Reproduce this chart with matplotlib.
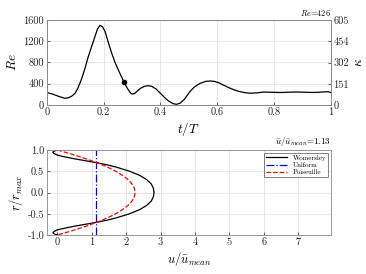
import numpy as np
import matplotlib
matplotlib.use('Agg')
import matplotlib.pyplot as plt

plt.rcParams['font.family'] = ['cmr10', 'DejaVu Serif']
plt.rcParams['mathtext.fontset'] = 'cm'
plt.rcParams['axes.unicode_minus'] = False

# Re over one cycle
t = [0.0, 0.02, 0.04, 0.063, 0.075, 0.088, 0.099, 0.11, 0.122, 0.134, 0.145,
     0.158, 0.169, 0.178, 0.187, 0.196, 0.205, 0.215, 0.228, 0.24, 0.255,
     0.272, 0.285, 0.295, 0.301, 0.31, 0.32, 0.33, 0.343, 0.357, 0.37, 0.385,
     0.399, 0.415, 0.43, 0.445, 0.457, 0.47, 0.485, 0.504, 0.52, 0.54, 0.56,
     0.575, 0.59, 0.605, 0.622, 0.64, 0.66, 0.678, 0.695, 0.716, 0.74, 0.763,
     0.79, 0.822, 0.85, 0.881, 0.91, 0.939, 0.96, 0.98, 0.992, 1.0]
Re = [235, 205, 165, 125, 135, 170, 220, 330, 490, 690, 900,
      1110, 1286, 1430, 1500, 1470, 1380, 1200, 980, 800, 620,
      426, 300, 225, 205, 220, 270, 315, 350, 364, 350, 300,
      225, 140, 70, 25, 13, 35, 110, 251, 340, 408, 445,
      452, 445, 420, 376, 330, 285, 255, 235, 222, 228, 243,
      240, 235, 240, 245, 240, 236, 240, 248, 250, 235]
t_now, Re_now = 0.272, 426

# velocity profiles
r_w = [1.0, 0.98, 0.97, 0.95, 0.92, 0.88, 0.85, 0.8, 0.75, 0.7, 0.65, 0.6,
       0.5, 0.4, 0.3, 0.2, 0.1, 0.0, -0.1, -0.2, -0.3, -0.4, -0.5, -0.6,
       -0.65, -0.7, -0.75, -0.8, -0.85, -0.88, -0.92, -0.95, -0.97, -0.98,
       -1.0]
u_w = [0.0, -0.07, -0.1, -0.13, -0.1, 0.0, 0.15, 0.45, 0.8, 1.15, 1.45, 1.7,
       2.1, 2.4, 2.6, 2.73, 2.79, 2.81, 2.79, 2.73, 2.6, 2.4, 2.1, 1.7,
       1.45, 1.15, 0.8, 0.45, 0.15, 0.0, -0.1, -0.13, -0.1, -0.07, 0.0]
r_p = [1.0, 0.9, 0.8, 0.7, 0.6, 0.5, 0.4, 0.3, 0.2, 0.1, 0.0, -0.1, -0.2,
       -0.3, -0.4, -0.5, -0.6, -0.7, -0.8, -0.9, -1.0]
u_p = [0.0, 0.43, 0.81, 1.15, 1.45, 1.70, 1.90, 2.06, 2.17, 2.24, 2.26, 2.24,
       2.17, 2.06, 1.90, 1.70, 1.45, 1.15, 0.81, 0.43, 0.0]
u_uniform = 1.13

fig = plt.figure(figsize=(3.66, 2.74), dpi=100)
ax1 = fig.add_axes([47/366, 1-105/274, 283.5/366, 85/274])
ax2 = fig.add_axes([47/366, 1-235/274, 284/366, 85/274])

gray = '#262626'
fs = 7.5
for ax in (ax1, ax2):
    ax.grid(True, color='#e3e3e3', linewidth=0.6)
    ax.set_axisbelow(True)
    ax.tick_params(direction='in', length=2.5, width=0.5, colors=gray,
                   labelsize=fs, pad=2)
    for s in ax.spines.values():
        s.set_color('#888888')
        s.set_linewidth(0.6)

ax1.plot(t, Re, color='k', lw=0.9)
ax1.plot(t_now, Re_now, 'o', color='k', ms=3)
ax1.set_xlim(0, 1)
ax1.set_ylim(0, 1600)
ax1.set_xticks([0, 0.2, 0.4, 0.6, 0.8, 1])
ax1.set_xticklabels(['0', '0.2', '0.4', '0.6', '0.8', '1'])
ax1.set_yticks([0, 400, 800, 1200, 1600])
ax1.set_yticklabels(['0', '400', '800', '1200', '1600'])
ax1.set_xlabel(r'$t/T$', fontsize=9.5, labelpad=2)
ax1.set_ylabel(r'$Re$', fontsize=9.5, labelpad=3)
ax1.text(1.0, 1.02, r'$Re$=426', transform=ax1.transAxes, ha='right',
         va='bottom', fontsize=6)

axr = ax1.twinx()
axr.set_ylim(0, 605)
axr.set_yticks([0, 151, 302, 454, 605])
axr.set_yticklabels(['0', '151', '302', '454', '605'])
axr.tick_params(direction='in', length=2.5, width=0.5, colors=gray,
                labelsize=fs, pad=2)
for s in axr.spines.values():
    s.set_color('#888888')
    s.set_linewidth(0.6)
axr.set_ylabel(r'$\kappa$', fontsize=9.5, rotation=90, labelpad=3)

ax2.plot(u_w, r_w, color='k', lw=0.9, label='Womersley')
ax2.plot([u_uniform, u_uniform], [-1, 1], color='b', lw=0.9, ls='-.',
         label='Uniform')
ax2.plot(u_p, r_p, color='r', lw=0.9, ls='--', label='Poiseuille')
ax2.set_xlim(-0.3, 7.95)
ax2.set_ylim(-1, 1)
ax2.set_xticks(range(8))
ax2.set_xticklabels([str(i) for i in range(8)])
ax2.set_yticks([-1, -0.5, 0, 0.5, 1])
ax2.set_yticklabels(['-1.0', '-0.5', '0.0', '0.5', '1.0'])
ax2.set_xlabel(r'$u/\bar{u}_{mean}$', fontsize=9, labelpad=2)
ax2.set_ylabel(r'$r/r_{max}$', fontsize=9, labelpad=2)
ax2.text(1.0, 1.02, r'$\bar{u}/\bar{u}_{mean}$=1.13', transform=ax2.transAxes,
         ha='right', va='bottom', fontsize=6.5)
leg = ax2.legend(loc='upper right', fontsize=5, frameon=True, fancybox=False,
                 handlelength=3, borderpad=0.3, labelspacing=0.2,
                 borderaxespad=0.4)
leg.get_frame().set_edgecolor('#262626')
leg.get_frame().set_linewidth(0.5)

fig.savefig('out.png', dpi=100)
